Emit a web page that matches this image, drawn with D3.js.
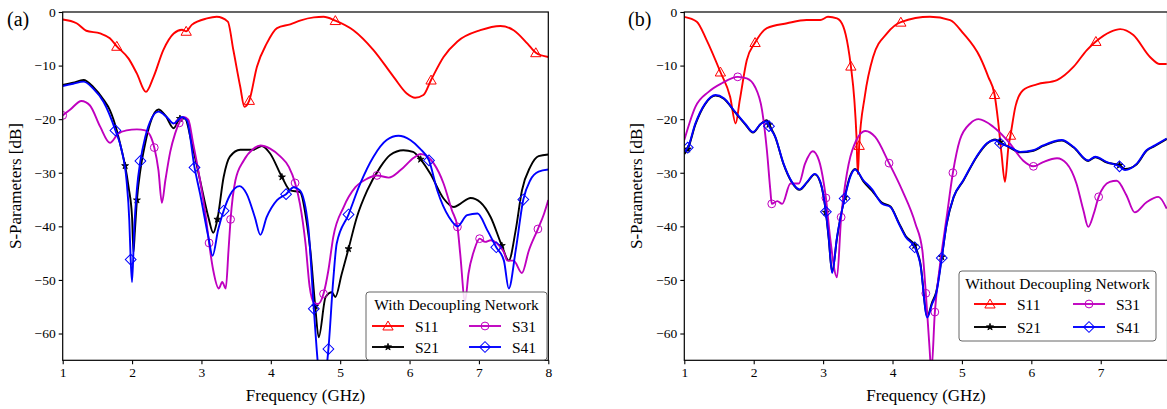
<!DOCTYPE html>
<html>
<head>
<meta charset="utf-8">
<script src="https://cdn.jsdelivr.net/npm/d3@7"></script>
<style>
  body { margin: 0; background: #fff; }
  svg text { font-family: "Liberation Serif", "Times New Roman", serif; fill: #000; }
</style>
</head>
<body>
<svg width="1167" height="409"></svg>
<script>
// ---- data: [frequency GHz, dB] ----
// (a) with decoupling network
var aS11 = [[1.00,-1.4],[1.20,-2.1],[1.34,-3.5],[1.54,-4.0],[1.68,-4.9],[1.78,-6.4],[1.95,-8.7],[2.07,-11.5],[2.20,-14.9],[2.31,-12.1],[2.45,-7.1],[2.60,-4.0],[2.72,-3.3],[2.78,-3.6],[2.86,-2.4],[3.08,-1.2],[3.22,-0.9],[3.38,-1.8],[3.46,-7.1],[3.56,-14.0],[3.62,-17.7],[3.69,-16.5],[3.80,-10.2],[3.94,-5.9],[4.09,-3.0],[4.28,-2.3],[4.42,-1.6],[4.62,-1.0],[4.76,-0.9],[4.93,-1.6],[5.19,-3.4],[5.48,-7.1],[5.77,-12.1],[5.96,-15.2],[6.08,-16.0],[6.20,-15.5],[6.31,-12.7],[6.49,-8.4],[6.69,-5.5],[7.02,-3.4],[7.31,-2.6],[7.50,-3.4],[7.70,-5.9],[7.82,-7.6],[8.00,-8.4]];
var aS21 = [[1.00,-13.6],[1.15,-13.2],[1.30,-12.7],[1.44,-14.0],[1.59,-16.4],[1.68,-18.3],[1.78,-22.1],[1.85,-25.8],[1.90,-28.7],[1.95,-32.7],[2.00,-38.3],[2.02,-44.8],[2.04,-41.0],[2.07,-35.1],[2.12,-29.5],[2.19,-24.5],[2.26,-20.8],[2.38,-18.2],[2.48,-19.3],[2.60,-21.7],[2.69,-19.9],[2.76,-19.9],[2.86,-24.5],[2.98,-31.4],[3.10,-38.3],[3.17,-41.2],[3.23,-38.7],[3.32,-30.8],[3.41,-27.0],[3.56,-25.7],[3.75,-25.7],[3.87,-25.0],[3.99,-26.4],[4.16,-30.8],[4.28,-33.3],[4.42,-33.6],[4.52,-39.5],[4.57,-44.5],[4.64,-54.9],[4.69,-60.7],[4.79,-53.2],[4.88,-52.3],[4.93,-53.2],[5.02,-49.0],[5.12,-44.2],[5.24,-38.3],[5.39,-33.3],[5.58,-28.9],[5.72,-26.7],[5.91,-25.8],[6.05,-26.1],[6.16,-27.5],[6.30,-30.2],[6.49,-34.8],[6.64,-36.4],[6.73,-35.8],[6.88,-34.7],[7.02,-35.5],[7.17,-38.3],[7.33,-43.6],[7.43,-46.4],[7.53,-40.7],[7.62,-33.3],[7.74,-28.9],[7.86,-26.9],[8.00,-26.6]];
var aS31 = [[1.00,-19.3],[1.11,-18.2],[1.27,-16.6],[1.39,-17.4],[1.54,-21.4],[1.68,-24.4],[1.80,-22.7],[1.92,-22.1],[2.07,-21.9],[2.19,-22.1],[2.28,-23.6],[2.32,-25.3],[2.38,-29.5],[2.43,-35.6],[2.48,-31.4],[2.55,-26.1],[2.62,-22.7],[2.68,-20.7],[2.74,-19.6],[2.81,-20.1],[2.88,-24.5],[2.98,-31.4],[3.07,-38.9],[3.11,-43.1],[3.17,-48.2],[3.25,-51.6],[3.30,-50.4],[3.35,-51.6],[3.39,-44.5],[3.42,-38.7],[3.49,-31.4],[3.61,-27.7],[3.75,-25.5],[3.85,-24.9],[3.99,-25.5],[4.14,-27.0],[4.26,-28.9],[4.35,-31.9],[4.42,-35.8],[4.50,-43.2],[4.56,-51.3],[4.62,-54.2],[4.68,-54.5],[4.76,-52.6],[4.83,-48.2],[4.90,-42.0],[5.05,-36.4],[5.22,-32.7],[5.39,-31.1],[5.53,-30.5],[5.70,-30.9],[5.87,-29.5],[6.06,-27.2],[6.16,-26.5],[6.35,-28.3],[6.49,-32.0],[6.61,-37.0],[6.69,-40.1],[6.73,-45.1],[6.80,-54.0],[6.85,-48.8],[6.93,-44.5],[7.01,-42.3],[7.09,-42.9],[7.17,-42.6],[7.26,-43.2],[7.36,-44.8],[7.41,-46.4],[7.50,-46.4],[7.62,-48.7],[7.72,-44.5],[7.85,-40.5],[7.94,-37.6],[8.00,-35.1]];
var aS41 = [[1.00,-13.8],[1.15,-13.4],[1.30,-13.0],[1.44,-14.3],[1.59,-16.8],[1.76,-22.1],[1.85,-25.8],[1.92,-31.4],[1.96,-38.9],[1.98,-46.2],[2.00,-50.4],[2.03,-40.7],[2.07,-33.0],[2.12,-27.8],[2.19,-23.3],[2.28,-19.9],[2.38,-18.6],[2.50,-19.6],[2.60,-20.8],[2.72,-19.6],[2.79,-20.2],[2.90,-29.0],[2.98,-33.9],[3.10,-42.0],[3.16,-45.5],[3.24,-40.7],[3.32,-37.1],[3.41,-34.2],[3.55,-32.5],[3.65,-33.9],[3.77,-38.3],[3.85,-41.6],[3.94,-38.3],[4.09,-35.1],[4.22,-34.0],[4.33,-32.7],[4.42,-33.3],[4.54,-40.1],[4.62,-55.4],[4.70,-68.0],[4.76,-70.0],[4.83,-62.9],[4.90,-50.0],[4.95,-43.2],[5.12,-37.8],[5.29,-32.0],[5.48,-27.0],[5.67,-23.9],[5.84,-23.1],[6.01,-23.9],[6.15,-25.5],[6.28,-27.7],[6.40,-33.3],[6.57,-38.3],[6.69,-40.0],[6.83,-37.9],[6.98,-37.6],[7.12,-40.7],[7.25,-43.9],[7.36,-46.4],[7.43,-51.6],[7.53,-44.5],[7.64,-35.0],[7.74,-31.4],[7.86,-29.8],[8.00,-29.4]];

// (b) without decoupling network
var bS11 = [[1.00,-0.9],[1.18,-1.8],[1.32,-5.2],[1.52,-11.2],[1.66,-15.8],[1.74,-20.8],[1.80,-16.4],[1.90,-9.0],[2.02,-5.7],[2.19,-3.0],[2.48,-2.1],[2.76,-1.5],[2.96,-1.5],[3.07,-0.9],[3.20,-1.2],[3.29,-2.7],[3.36,-6.5],[3.40,-10.1],[3.45,-16.4],[3.48,-23.0],[3.50,-30.2],[3.52,-24.9],[3.60,-15.8],[3.72,-8.4],[3.92,-4.0],[4.12,-1.9],[4.54,-0.9],[4.83,-1.5],[5.02,-4.0],[5.26,-8.4],[5.38,-12.1],[5.47,-15.4],[5.52,-20.2],[5.57,-26.4],[5.62,-31.7],[5.67,-25.2],[5.70,-23.0],[5.77,-17.7],[5.88,-14.6],[6.08,-13.5],[6.37,-12.7],[6.61,-10.2],[6.80,-7.1],[6.93,-5.5],[7.14,-3.7],[7.28,-3.2],[7.47,-4.3],[7.71,-8.4],[7.85,-9.7],[7.95,-9.7]];
var bS21 = [[1.00,-26.5],[1.05,-25.6],[1.16,-21.0],[1.30,-17.2],[1.45,-15.6],[1.57,-16.2],[1.73,-18.7],[1.88,-21.0],[1.99,-22.5],[2.10,-20.9],[2.19,-20.2],[2.22,-21.0],[2.31,-23.3],[2.43,-28.4],[2.55,-31.8],[2.66,-33.2],[2.77,-31.8],[2.88,-30.3],[2.96,-31.8],[3.04,-37.4],[3.08,-42.2],[3.13,-48.5],[3.20,-42.2],[3.31,-34.6],[3.39,-30.6],[3.46,-29.3],[3.58,-31.6],[3.70,-33.3],[3.85,-35.6],[3.97,-36.3],[4.09,-39.3],[4.19,-41.8],[4.32,-43.6],[4.40,-46.8],[4.50,-56.8],[4.57,-54.2],[4.63,-52.2],[4.71,-45.7],[4.78,-39.6],[4.88,-34.6],[5.02,-31.5],[5.21,-27.1],[5.36,-24.6],[5.48,-23.8],[5.55,-24.3],[5.69,-25.3],[5.84,-26.2],[6.03,-25.9],[6.17,-25.0],[6.44,-24.0],[6.61,-25.3],[6.82,-27.8],[6.92,-27.1],[7.09,-28.1],[7.27,-28.6],[7.35,-29.3],[7.52,-28.4],[7.66,-25.9],[7.78,-25.0],[7.95,-23.7]];
var bS31 = [[1.00,-23.9],[1.16,-17.7],[1.35,-14.9],[1.54,-13.3],[1.77,-12.1],[1.90,-12.4],[2.02,-14.0],[2.12,-18.3],[2.19,-25.8],[2.24,-33.3],[2.26,-35.8],[2.34,-35.3],[2.41,-35.8],[2.53,-32.0],[2.65,-32.0],[2.74,-28.3],[2.85,-26.0],[2.94,-27.7],[3.01,-32.0],[3.04,-34.7],[3.10,-42.0],[3.20,-49.5],[3.26,-38.3],[3.32,-32.0],[3.42,-25.8],[3.61,-22.2],[3.75,-23.3],[3.95,-28.2],[4.14,-33.3],[4.33,-39.5],[4.43,-44.5],[4.48,-52.5],[4.53,-62.0],[4.56,-67.0],[4.61,-56.0],[4.68,-47.6],[4.78,-38.3],[4.87,-30.0],[4.97,-23.9],[5.12,-20.8],[5.24,-20.0],[5.45,-21.4],[5.69,-24.5],[5.88,-27.7],[6.03,-28.8],[6.17,-28.0],[6.37,-27.3],[6.51,-28.3],[6.65,-32.0],[6.75,-37.0],[6.82,-40.1],[6.90,-37.6],[6.97,-34.5],[7.13,-31.7],[7.23,-31.5],[7.37,-34.2],[7.49,-37.4],[7.66,-35.5],[7.83,-34.5],[7.95,-36.7]];
var bS41 = [[1.00,-26.1],[1.05,-25.3],[1.16,-20.8],[1.30,-17.1],[1.45,-15.5],[1.57,-16.1],[1.73,-18.6],[1.88,-20.9],[1.99,-22.4],[2.10,-20.9],[2.19,-20.4],[2.22,-21.3],[2.31,-23.3],[2.43,-28.3],[2.55,-31.7],[2.66,-33.1],[2.77,-31.7],[2.88,-30.2],[2.96,-31.7],[3.04,-37.3],[3.08,-42.0],[3.13,-48.7],[3.20,-42.0],[3.31,-34.8],[3.39,-30.8],[3.46,-29.4],[3.58,-31.4],[3.70,-33.0],[3.85,-35.8],[3.97,-36.4],[4.09,-39.5],[4.19,-42.0],[4.32,-43.9],[4.40,-47.0],[4.50,-57.0],[4.57,-54.5],[4.63,-52.5],[4.71,-45.9],[4.78,-39.5],[4.88,-34.5],[5.02,-31.4],[5.21,-27.0],[5.36,-24.5],[5.48,-23.9],[5.55,-24.5],[5.69,-25.2],[5.84,-26.1],[6.03,-25.8],[6.17,-24.9],[6.44,-23.9],[6.61,-25.2],[6.82,-27.7],[6.92,-27.0],[7.09,-28.0],[7.27,-28.8],[7.35,-29.5],[7.52,-28.3],[7.66,-25.8],[7.78,-24.9],[7.95,-23.6]];

// frequencies where markers sit
var aS11Marks = [1.78, 2.78, 3.69, 4.93, 6.31, 7.82];
var aS21Marks = [1.90, 2.07, 2.69, 3.23, 4.16, 4.64, 5.12, 6.16, 7.33];
var aS31Marks = [1.00, 2.32, 2.68, 3.11, 3.42, 4.35, 4.76, 5.53, 6.69, 7.01, 7.85];
var aS41Marks = [1.76, 1.98, 2.12, 2.90, 3.32, 4.22, 4.62, 4.83, 5.12, 6.28, 7.25, 7.64];
var bS11Marks = [1.52, 2.02, 3.40, 3.52, 4.12, 5.47, 5.70, 6.93];
var bS21Marks = [1.05, 2.22, 3.04, 3.31, 4.32, 4.71, 5.55, 7.27];
var bS31Marks = [1.77, 2.26, 3.04, 3.26, 3.95, 4.48, 4.61, 4.87, 6.03, 6.97];
var bS41Marks = [1.05, 2.22, 3.04, 3.31, 4.32, 4.71, 5.55, 7.27];

var seriesNames = ["S11", "S21", "S31", "S41"];
var yTicks = [0, -10, -20, -30, -40, -50, -60];
var xTicksA = [1, 2, 3, 4, 5, 6, 7, 8];
var xTicksB = [1, 2, 3, 4, 5, 6, 7];

var colors = { S11: "#ff0000", S21: "#000000", S31: "#bf00bf", S41: "#0000ff" };

var svg = d3.select("svg");

function markerPath(name) {
  if (name == "S11") return d3.symbol().type(d3.symbolTriangle).size(46)();
  if (name == "S21") return d3.symbol().type(d3.symbolStar).size(15)();
  if (name == "S31") return d3.symbol().type(d3.symbolCircle).size(48)();
  return d3.symbol().type(d3.symbolSquare).size(58)();
}

function drawMarker(g, name, x, y) {
  var m = g.append("path")
    .attr("d", markerPath(name))
    .attr("stroke", colors[name])
    .attr("stroke-width", name == "S21" ? 0.8 : 1)
    .attr("fill", name == "S21" ? colors[name] : "none");
  if (name == "S41") m.attr("transform", "translate(" + x + "," + y + ") rotate(45)");
  else if (name == "S11") m.attr("transform", "translate(" + x + "," + (y + 1) + ")");
  else m.attr("transform", "translate(" + x + "," + y + ")");
}

function drawPanel(p) {
  var x = d3.scaleLinear().domain([1, p.xmax]).range([p.left, p.right]);
  var y = d3.scaleLinear().domain([0, -65]).range([12, 360.3]);

  var g = svg.append("g");
  var clipId = "clip-" + p.id;
  g.append("clipPath").attr("id", clipId)
    .append("rect")
    .attr("x", p.left).attr("y", 12)
    .attr("width", p.right - p.left).attr("height", 348.3);

  var line = d3.line()
    .x(function(d) { return x(d[0]); })
    .y(function(d) { return y(d[1]); })
    .curve(d3.curveMonotoneX);

  var plot = g.append("g").attr("clip-path", "url(#" + clipId + ")");
  seriesNames.forEach(function(name, i) {
    var data = p.series[i];
    plot.append("path")
      .datum(data)
      .attr("fill", "none")
      .attr("stroke", colors[name])
      .attr("stroke-width", 1.9)
      .attr("stroke-linejoin", "round")
      .attr("d", line);
    p.marks[i].forEach(function(f) {
      var pt = data.find(function(d) { return Math.abs(d[0] - f) < 1e-6; });
      if (pt && pt[1] >= -66) drawMarker(plot, name, x(pt[0]), y(pt[1]));
    });
  });

  // axes
  var xAxis = g.append("g")
    .attr("transform", "translate(0,360.3)")
    .call(d3.axisBottom(x).tickValues(p.xTicks).tickFormat(d3.format("d")).tickSize(4).tickPadding(3));
  var yAxis = g.append("g")
    .attr("transform", "translate(" + p.left + ",0)")
    .call(d3.axisLeft(y).tickValues(yTicks).tickFormat(d3.format("d")).tickSize(4).tickPadding(3));
  [xAxis, yAxis].forEach(function(a) {
    a.select(".domain").remove();
    a.selectAll("line").attr("stroke", "#000").attr("stroke-width", 1.1);
    a.selectAll("text").style("font-family", "Liberation Serif").style("font-size", "13.5px").attr("fill", "#000");
  });

  // frame
  g.append("rect")
    .attr("x", p.left).attr("y", 12)
    .attr("width", p.right - p.left).attr("height", 348.3)
    .attr("fill", "none").attr("stroke", "#000").attr("stroke-width", 1.2);

  g.append("text")
    .attr("x", (p.left + p.right) / 2).attr("y", 401)
    .attr("text-anchor", "middle")
    .style("font-size", "17px")
    .text("Frequency (GHz)");
  g.append("text")
    .attr("transform", "translate(" + p.ylabX + ",186) rotate(-90)")
    .attr("text-anchor", "middle")
    .style("font-size", "17px")
    .text("S-Parameters [dB]");
  g.append("text")
    .attr("x", p.tagX).attr("y", 26)
    .style("font-size", "20px")
    .text(p.tag);

  // legend
  var L = p.legend;
  var lg = g.append("g");
  lg.append("rect")
    .attr("x", L.x).attr("y", L.y).attr("width", L.w).attr("height", L.h)
    .attr("rx", 3)
    .attr("fill", "#fff").attr("fill-opacity", 0.85)
    .attr("stroke", "#666").attr("stroke-width", 1);
  lg.append("text")
    .attr("x", L.x + L.w / 2).attr("y", L.y + 18)
    .attr("text-anchor", "middle")
    .style("font-size", "15.5px")
    .text(p.title);
  seriesNames.forEach(function(name, i) {
    var col = Math.floor(i / 2), row = i % 2;
    var lx = L.cols[col], ly = L.rows[row];
    lg.append("line")
      .attr("x1", lx).attr("x2", lx + 32)
      .attr("y1", ly).attr("y2", ly)
      .attr("stroke", colors[name]).attr("stroke-width", 1.9);
    drawMarker(lg, name, lx + 16, ly);
    lg.append("text")
      .attr("x", lx + 43).attr("y", ly + 5.5)
      .style("font-size", "15.5px")
      .text(name);
  });
}

drawPanel({
  id: "a", tag: "(a)", tagX: 7, ylabX: 21,
  left: 62.7, right: 548.3, xmax: 8, xTicks: xTicksA,
  series: [aS11, aS21, aS31, aS41],
  marks: [aS11Marks, aS21Marks, aS31Marks, aS41Marks],
  title: "With Decoupling Network",
  legend: { x: 366, y: 292, w: 181, h: 68, cols: [372, 469], rows: [326, 347] }
});

drawPanel({
  id: "b", tag: "(b)", tagX: 628, ylabX: 642,
  left: 684.3, right: 1167.5, xmax: 7.962, xTicks: xTicksB,
  series: [bS11, bS21, bS31, bS41],
  marks: [bS11Marks, bS21Marks, bS31Marks, bS41Marks],
  title: "Without Decoupling Network",
  legend: { x: 959, y: 271, w: 197, h: 70, cols: [974, 1073], rows: [304, 327] }
});
</script>
</body>
</html>
